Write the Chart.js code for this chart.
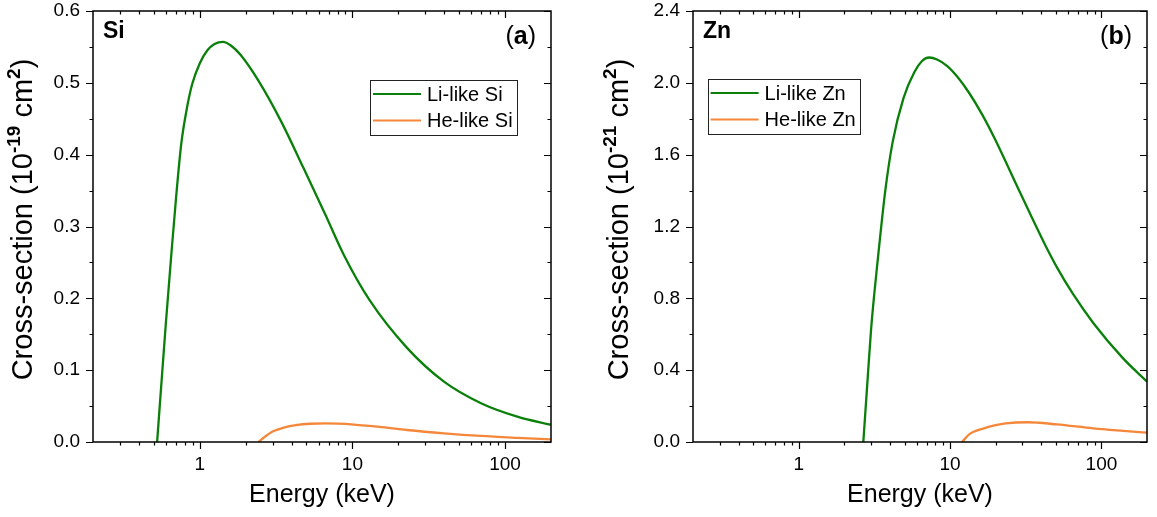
<!DOCTYPE html>
<html><head><meta charset="utf-8">
<script src="https://cdn.jsdelivr.net/npm/chart.js@4/dist/chart.umd.min.js"></script>
<style>
html,body{margin:0;padding:0;background:#fff;}
#wrap{position:relative;width:1157px;height:517px;}
.c{position:absolute;top:0;height:517px;}
</style></head><body>
<div id="wrap">
<div class="c" style="left:0;width:580px"><canvas id="ca"></canvas></div>
<div class="c" style="left:580px;width:577px"><canvas id="cb"></canvas></div>
</div>
<script>
// ---- Data (energies in keV, cross-sections in panel units) ----
const siEnergyLi = [0.526,0.56,0.60,0.65,0.70,0.757,0.83,0.895,1.0,1.12,1.25,1.42,1.6,1.85,2.44,3.42,4.77,6.67,8.81,13,22.8,39.8,69.6,121.6,200];
const siLi       = [0,0.079,0.165,0.258,0.34,0.415,0.468,0.499,0.527,0.545,0.554,0.557,0.552,0.539,0.502,0.446,0.382,0.316,0.26,0.197,0.131,0.084,0.054,0.035,0.024];
const siEnergyHe = [2.42,2.7,3.05,3.6,4.27,5.3,6.67,8.0,9.86,15,22.8,39.8,69.6,120,200];
const siHe       = [0,0.008,0.0152,0.0205,0.0235,0.0254,0.026,0.0256,0.0246,0.021,0.0167,0.0121,0.0084,0.0058,0.0037];

const znEnergyLi = [2.67,2.85,3.0,3.15,3.34,3.73,4.17,4.92,5.81,6.5,7.26,8.2,9.58,11.2,13.4,16.3,19.7,29.1,42.9,50.7,65,88.3,137.6,200];
const znLi       = [0,0.35,0.62,0.82,1.03,1.40,1.67,1.915,2.06,2.12,2.141,2.13,2.093,2.032,1.942,1.823,1.69,1.386,1.09,0.974,0.823,0.663,0.47,0.336];
const znEnergyHe = [11.97,13.5,16.7,20,23.3,32.5,50.7,88.3,140,200];
const znHe       = [0,0.045,0.076,0.094,0.104,0.110,0.098,0.076,0.062,0.052];

const xTickLabels = [1, 10, 100];
const siYTicks = [0, 0.1, 0.2, 0.3, 0.4, 0.5, 0.6];
const znYTicks = [0, 0.4, 0.8, 1.2, 1.6, 2.0, 2.4];
const siLabels = ['Li-like Si', 'He-like Si'];
const znLabels = ['Li-like Zn', 'He-like Zn'];

// ---- Styles ----
const GREEN = '#0a800a';
const ORANGE = '#f5873a';
const FONT = "'Liberation Sans', Arial, sans-serif";
Chart.defaults.color = '#000';
Chart.defaults.font.family = FONT;

const zip = (xs, ys) => xs.map((x, i) => ({x: x, y: ys[i]}));

const decorPlugin = {
  id: 'decor',
  afterDatasetsDraw(chart) {
    const o = chart.options.plugins.decor;
    const ctx = chart.ctx;
    const a = chart.chartArea;
    const xs = chart.scales.x, ys = chart.scales.y;
    ctx.save();
    // frame
    ctx.strokeStyle = '#000';
    ctx.lineWidth = 1.5;
    ctx.strokeRect(a.left, a.top, a.right - a.left, a.bottom - a.top);
    // x ticks
    const MAJ = 7, MIN = 3.5;
    ctx.lineWidth = 1.2;
    const xTick = (v, len) => {
      const px = Math.round(xs.getPixelForValue(v)) + 0.5;
      ctx.beginPath();
      ctx.moveTo(px, a.bottom); ctx.lineTo(px, a.bottom + len);
      ctx.moveTo(px, a.top); ctx.lineTo(px, a.top + len);
      ctx.stroke();
    };
    for (let k = -1; k <= 2; k++) {
      for (let d = 1; d <= 9; d++) {
        const v = d * Math.pow(10, k);
        if (v <= xs.min * 1.0001 || v >= xs.max * 0.9999) continue;
        xTick(v, d === 1 ? MAJ : MIN);
      }
    }
    // y ticks
    const yTick = (v, len) => {
      const py = Math.round(ys.getPixelForValue(v)) + 0.5;
      ctx.beginPath();
      ctx.moveTo(a.left, py); ctx.lineTo(a.left - len, py);
      ctx.moveTo(a.right, py); ctx.lineTo(a.right - len, py);
      ctx.stroke();
    };
    const yt = o.yTicks;
    for (let i = 0; i < yt.length; i++) {
      yTick(yt[i], MAJ);
      if (i < yt.length - 1) yTick((yt[i] + yt[i + 1]) / 2, MIN);
    }
    // y title with superscripts
    ctx.fillStyle = '#000';
    const parts = o.yTitle;
    let total = 0;
    parts.forEach(p => { ctx.font = p.font; p.w = ctx.measureText(p.t).width; total += p.w; });
    ctx.translate(a.left - o.yTitleGap, (a.top + a.bottom) / 2 - 7);
    ctx.rotate(-Math.PI / 2);
    ctx.textBaseline = 'alphabetic';
    ctx.textAlign = 'left';
    let cx = -total / 2;
    parts.forEach(p => {
      ctx.font = p.font;
      ctx.fillText(p.t, cx, -(p.raise || 0));
      cx += p.w;
    });
    ctx.setTransform(1, 0, 0, 1, 0, 0);
    // panel element label
    ctx.font = 'bold 23px ' + FONT;
    ctx.textAlign = 'left';
    ctx.fillText(o.element, a.left + 10, 38);
    // panel letter "(a)"
    const lp = [{t: '(', f: '25px ' + FONT}, {t: o.letter, f: 'bold 25px ' + FONT}, {t: ')', f: '25px ' + FONT}];
    let lw = 0;
    lp.forEach(p => { ctx.font = p.f; p.w = ctx.measureText(p.t).width; lw += p.w; });
    let lx = a.right - 15 - lw;
    lp.forEach(p => { ctx.font = p.f; ctx.fillText(p.t, lx, 44); lx += p.w; });
    // legend
    ctx.font = '20px ' + FONT;
    const ds = chart.data.datasets;
    let tw = 0;
    ds.forEach(d => { tw = Math.max(tw, ctx.measureText(d.label).width); });
    const L = a.left + o.legendDx, T = o.legendTop;
    const W = tw + 61, H = 55;
    ctx.lineWidth = 1;
    ctx.strokeStyle = '#222';
    ctx.strokeRect(Math.round(L) + 0.5, Math.round(T) + 0.5, Math.round(W), H);
    ds.forEach((d, i) => {
      const ry = T + 14 + i * 26.5;
      ctx.strokeStyle = d.borderColor;
      ctx.lineWidth = 2;
      ctx.beginPath();
      ctx.moveTo(L + 3, ry); ctx.lineTo(L + 51, ry);
      ctx.stroke();
      ctx.fillStyle = '#000';
      ctx.textBaseline = 'middle';
      ctx.fillText(d.label, L + 57, ry + 1);
    });
    ctx.restore();
  }
};

function makeChart(id, c) {
  return new Chart(document.getElementById(id), {
    type: 'line',
    data: {
      datasets: [
        {label: c.labels[0], data: zip(c.eLi, c.vLi), borderColor: GREEN, borderWidth: 2.3,
         pointRadius: 0, cubicInterpolationMode: 'monotone', fill: false},
        {label: c.labels[1], data: zip(c.eHe, c.vHe), borderColor: ORANGE, borderWidth: 2.3,
         pointRadius: 0, cubicInterpolationMode: 'monotone', fill: false}
      ]
    },
    options: {
      responsive: true, maintainAspectRatio: false, animation: false, devicePixelRatio: 1,
      layout: {autoPadding: false, padding: {left: 0, right: c.padRight, top: 11, bottom: 0}},
      plugins: {
        legend: {display: false}, tooltip: {enabled: false},
        decor: {yTicks: c.yTicks, yTitle: c.yTitle, element: c.element, letter: c.letter,
                legendDx: c.legendDx, legendTop: c.legendTop, yTitleGap: c.yTitleGap}
      },
      scales: {
        x: {
          type: 'logarithmic', min: 0.2, max: 200, position: 'bottom',
          afterBuildTicks: s => { s.ticks = xTickLabels.map(v => ({value: v, major: true})); },
          afterFit: s => { s.height = 75; s.paddingLeft = 0; s.paddingRight = 0; },
          grid: {display: false, drawTicks: false}, border: {display: false},
          ticks: {font: {size: 19}, color: '#000', padding: 11, maxRotation: 0, autoSkip: false,
                  callback: v => String(v)},
          title: {display: true, text: 'Energy (keV)', font: {size: 25}, color: '#000', padding: {top: 0, bottom: 7}}
        },
        y: {
          type: 'linear', min: c.yTicks[0], max: c.yTicks[c.yTicks.length - 1],
          afterBuildTicks: s => { s.ticks = c.yTicks.map(v => ({value: v})); },
          afterFit: s => { s.width = c.yWidth; s.paddingTop = 0; s.paddingBottom = 0; },
          grid: {display: false, drawTicks: false}, border: {display: false},
          ticks: {font: {size: 19}, color: '#000', padding: 13, callback: v => Number(v).toFixed(1)}
        }
      }
    },
    plugins: [decorPlugin]
  });
}

const titleParts = exp => [
  {t: 'Cross-section (10', font: '29px ' + FONT},
  {t: exp, font: 'bold 19px ' + FONT, raise: 12},
  {t: ' cm', font: '29px ' + FONT},
  {t: '2', font: 'bold 19px ' + FONT, raise: 12},
  {t: ')', font: '29px ' + FONT}
];

makeChart('ca', {eLi: siEnergyLi, vLi: siLi, eHe: siEnergyHe, vHe: siHe, labels: siLabels,
  yTicks: siYTicks, yTitle: titleParts('-19'), element: 'Si', letter: 'a',
  yWidth: 93, padRight: 29, legendDx: 277, legendTop: 80, yTitleGap: 61.5});
makeChart('cb', {eLi: znEnergyLi, vLi: znLi, eHe: znEnergyHe, vHe: znHe, labels: znLabels,
  yTicks: znYTicks, yTitle: titleParts('-21'), element: 'Zn', letter: 'b',
  yWidth: 113, padRight: 10, legendDx: 14.6, legendTop: 79, yTitleGap: 65});
</script>
</body></html>
